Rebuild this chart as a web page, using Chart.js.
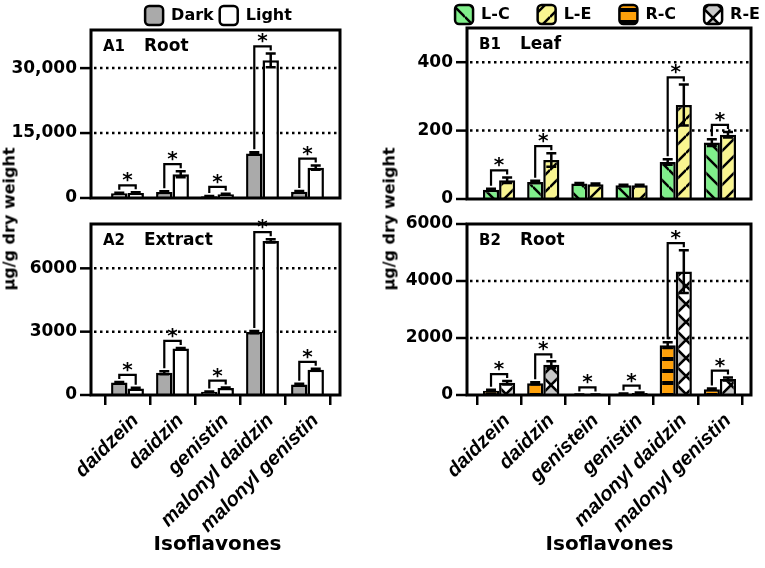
<!DOCTYPE html>
<html>
<head>
<meta charset="utf-8">
<script src="https://cdn.jsdelivr.net/npm/chart.js@4.4.1/dist/chart.umd.min.js"></script>
<style>
  body { margin: 0; background: #fff; overflow: hidden; }
  #hoja { position: relative; width: 765px; height: 568px; overflow: hidden; }
  canvas { position: absolute; }
  .ytit { position: absolute; transform: translate(-50%, -50%) rotate(-90deg); white-space: nowrap;
          font: bold 16px 'DejaVu Sans'; color: #000; }
</style>
</head>
<body>
<div id="hoja">
  <canvas id="gA1" width="437" height="211" style="left:0;top:0"></canvas>
  <canvas id="gA2" width="437" height="363" style="left:0;top:205px"></canvas>
  <canvas id="gB1" width="408" height="212" style="left:380px;top:0"></canvas>
  <canvas id="gB2" width="408" height="363" style="left:380px;top:205px"></canvas>
  <div class="ytit" style="left:9px;top:219px">μg/g dry weight</div>
  <div class="ytit" style="left:389px;top:219px">μg/g dry weight</div>
</div>
<script>
//Categorías
const isoA = ['daidzein', 'daidzin', 'genistin', 'malonyl daidzin', 'malonyl genistin'];
const isoB = ['daidzein', 'daidzin', 'genistein', 'genistin', 'malonyl daidzin', 'malonyl genistin'];

//A1 Root (Dark / Light)
const a1Dark = [1100, 1400, 400, 10300, 1450];
const a1DarkErr = [100, 150, 60, 250, 150];
const a1Light = [1150, 5500, 850, 31800, 7000];
const a1LightErr = [150, 700, 120, 1600, 500];
const a1Sig = [1, 1, 1, 1, 1];
const a1Ticks = [0, 15000, 30000];

//A2 Extract
const a2Dark = [590, 1050, 150, 2980, 500];
const a2DarkErr = [30, 70, 20, 50, 30];
const a2Light = [310, 2200, 330, 7300, 1200];
const a2LightErr = [30, 30, 20, 80, 40];
const a2Sig = [1, 1, 1, 1, 1];
const a2Ticks = [0, 3000, 6000];

//B1 Leaf (L-C / L-E)
const b1LC = [27, 50, 45, 40, 108, 165];
const b1LCErr = [3, 3, 2, 2, 8, 10];
const b1LE = [55, 114, 43, 40, 275, 188];
const b1LEErr = [8, 20, 2, 2, 60, 8];
const b1Sig = [1, 1, 0, 0, 1, 1];
const b1Ticks = [0, 200, 400];

//B2 Root (R-C / R-E)
const b2RC = [150, 410, 10, 40, 1750, 200];
const b2RCErr = [30, 40, 5, 10, 100, 25];
const b2RE = [430, 1060, 15, 70, 4330, 560];
const b2REErr = [60, 120, 5, 15, 750, 50];
const b2Sig = [1, 1, 1, 1, 1, 1];
const b2Ticks = [0, 2000, 4000, 6000];

const leyendaB = ['L-C', 'L-E', 'R-C', 'R-E'];

const fam = 'DejaVu Sans';
const Negro = '#000';

//Tramas de relleno
function trama(tipo) {
  const c = document.createElement('canvas');
  const s = tipo === 'naranja' ? 12 : (tipo === 'rombo' ? 18 : 17);
  c.width = s; c.height = s;
  const g = c.getContext('2d');
  if (tipo === 'verde' || tipo === 'amarillo') {
    g.fillStyle = tipo === 'verde' ? '#80ef8b' : '#f9f590';
    g.fillRect(0, 0, s, s);
    g.strokeStyle = Negro; g.lineWidth = 2.5;
    for (let k = -1; k <= 1; k++) {
      g.beginPath();
      if (tipo === 'verde') { g.moveTo(0, k * s); g.lineTo(s, s + k * s); }
      else { g.moveTo(0, s + k * s); g.lineTo(s, k * s); }
      g.stroke();
    }
  } else if (tipo === 'naranja') {
    g.fillStyle = '#ffa10a'; g.fillRect(0, 0, s, s);
    g.fillStyle = Negro; g.fillRect(0, 8, s, 4);
  } else {
    const h = s / 2;
    g.fillStyle = '#fff'; g.fillRect(0, 0, s, s);
    g.beginPath();
    g.moveTo(h, 0); g.lineTo(s, h); g.lineTo(h, s); g.lineTo(0, h); g.closePath();
    g.fillStyle = '#c8c8c8'; g.fill();
    g.strokeStyle = Negro; g.lineWidth = 2.5; g.stroke();
  }
  return g.createPattern(c, 'repeat');
}
const tVerde = trama('verde'), tAmarillo = trama('amarillo');
const tNaranja = trama('naranja'), tRombo = trama('rombo');

//Plugin: rejilla punteada, marco, barras de error, corchetes y rótulos
const marcas = {
  id: 'marcas',
  beforeDatasetsDraw(chart, args, o) {
    const {ctx, chartArea: a, scales: {y}} = chart;
    const L = a.left - o.inL, R = a.right + o.inR;
    ctx.save();
    ctx.strokeStyle = Negro; ctx.lineWidth = 2.5;
    ctx.setLineDash([2.5, 3.5]);
    y.ticks.forEach(t => {
      if (t.value <= 0 || t.value >= y.max) return;
      const py = y.getPixelForValue(t.value);
      ctx.beginPath(); ctx.moveTo(L + 3, py); ctx.lineTo(R - 2, py); ctx.stroke();
    });
    ctx.restore();
  },
  afterDatasetsDraw(chart, args, o) {
    const {ctx, chartArea: a, scales: {y}} = chart;
    const L = a.left - o.inL, R = a.right + o.inR;
    ctx.save();
    ctx.strokeStyle = Negro; ctx.fillStyle = Negro; ctx.lineWidth = 2.5;
    //barras de error
    const tops = [];
    o.errores.forEach((errs, d) => {
      const vals = chart.data.datasets[d].data;
      tops[d] = [];
      chart.getDatasetMeta(d).data.forEach((bar, i) => {
        const hi = y.getPixelForValue(vals[i] + errs[i]);
        const lo = y.getPixelForValue(Math.max(vals[i] - errs[i], 0));
        ctx.beginPath();
        ctx.moveTo(bar.x, lo); ctx.lineTo(bar.x, hi);
        ctx.moveTo(bar.x - 5, hi); ctx.lineTo(bar.x + 5, hi);
        ctx.moveTo(bar.x - 5, lo); ctx.lineTo(bar.x + 5, lo);
        ctx.stroke();
        tops[d][i] = Math.min(hi, bar.y);
      });
    });
    //corchetes de significancia
    ctx.lineWidth = 2.2;
    ctx.font = 'bold 20px ' + fam;
    ctx.textAlign = 'center'; ctx.textBaseline = 'alphabetic';
    o.sig.forEach((s, i) => {
      if (!s) return;
      const x0 = chart.getDatasetMeta(0).data[i].x, x1 = chart.getDatasetMeta(1).data[i].x;
      const t0 = tops[0][i], t1 = tops[1][i];
      const by = Math.min(t0, t1) - 7;
      const e0 = Math.max(t0 - 3, by + 4), e1 = Math.max(t1 - 3, by + 4);
      ctx.beginPath();
      ctx.moveTo(x0, e0); ctx.lineTo(x0, by); ctx.lineTo(x1, by); ctx.lineTo(x1, e1);
      ctx.stroke();
      ctx.fillText('*', (x0 + x1) / 2, by + 1);
    });
    //marco y marcas del eje y
    ctx.lineWidth = 3;
    ctx.strokeRect(L, a.top, R - L, a.bottom - a.top);
    ctx.lineWidth = 2.5;
    y.ticks.forEach(t => {
      const py = y.getPixelForValue(t.value);
      ctx.beginPath(); ctx.moveTo(L - 11, py); ctx.lineTo(L, py); ctx.stroke();
    });
    //rótulo del panel
    ctx.textAlign = 'left'; ctx.textBaseline = 'middle';
    ctx.font = 'bold 15px ' + fam;
    ctx.fillText(o.tag, L + 12, a.top + 17);
    ctx.font = 'bold 17px ' + fam;
    ctx.fillText(o.nombre, L + 53, a.top + 17);
    ctx.restore();
  }
};

const fuenteLeyenda = {family: fam, size: 16, weight: 'bold'};

//Crear un panel
function crearPanel(id, p) {
  const scales = {
    x: {
      display: p.abajo,
      offset: true,
      afterFit: s => { if (p.abajo) s.height = 173; },
      grid: {display: true, drawOnChartArea: false, drawTicks: true, tickLength: 10, color: Negro, lineWidth: 2.5, offset: true},
      border: {display: false},
      ticks: {color: Negro, font: {family: 'Liberation Sans', size: 20, weight: 'bold', style: 'italic'},
              minRotation: 45, maxRotation: 45, autoSkip: false, padding: 4, labelOffset: 8},
      title: {display: p.abajo, text: 'Isoflavones', color: Negro,
              font: {family: fam, size: 20, weight: 'bold'}, padding: {top: 0, bottom: 11}}
    },
    y: {
      min: 0, max: p.max,
      afterFit: s => { s.width = p.ancho; },
      afterBuildTicks: s => { s.ticks = p.ticks.map(v => ({value: v})); },
      grid: {display: true, drawOnChartArea: false, drawTicks: true, tickLength: p.sep, color: 'rgba(0,0,0,0)'},
      border: {display: false},
      ticks: {color: Negro, padding: 0, font: {family: fam, size: 17, weight: 'bold'}, callback: p.fmt}
    }
  };
  if (p.derecha) {
    scales.yR = {type: 'linear', position: 'right', display: true,
                 afterFit: s => { s.width = p.derecha; },
                 ticks: {display: false}, grid: {display: false, drawTicks: false}, border: {display: false}};
  }
  return new Chart(document.getElementById(id).getContext('2d'), {
    type: 'bar',
    data: {
      labels: p.labels,
      datasets: p.series.map(s => ({
        label: s.label, data: s.data, backgroundColor: s.fill,
        borderColor: Negro, borderWidth: 2.5,
        categoryPercentage: 0.73, barPercentage: 1.0
      }))
    },
    options: {
      responsive: false,
      animation: false,
      events: [],
      layout: {padding: p.pad},
      scales: scales,
      plugins: {
        legend: p.leyenda || {display: false},
        tooltip: {enabled: false},
        marcas: {inL: p.inL, inR: p.inR, tag: p.tag, nombre: p.nombre, errores: p.errores, sig: p.sig}
      }
    },
    plugins: [marcas]
  });
}

const conComa = v => v.toLocaleString('en-US');
const simple = v => String(v);

//A1 Root
crearPanel('gA1', {
  labels: isoA, abajo: false, max: 38800, ticks: a1Ticks, fmt: conComa,
  ancho: 105, sep: 28, derecha: 107, inL: 14, inR: 10,
  pad: {top: 0, right: 0, bottom: 13, left: 0},
  tag: 'A1', nombre: 'Root',
  series: [{label: 'Dark', data: a1Dark, fill: '#aaaaaa'}, {label: 'Light', data: a1Light, fill: '#ffffff'}],
  errores: [a1DarkErr, a1LightErr], sig: a1Sig,
  leyenda: {display: true, position: 'top', align: 'center', maxHeight: 30,
    labels: {color: Negro, font: fuenteLeyenda, boxWidth: 18, boxHeight: 19, padding: 6,
             useBorderRadius: true, borderRadius: 4}}
});

//A2 Extract
crearPanel('gA2', {
  labels: isoA, abajo: true, max: 8100, ticks: a2Ticks, fmt: simple,
  ancho: 105, sep: 28, inL: 14, inR: 10,
  pad: {top: 19, right: 107, bottom: 0, left: 0},
  tag: 'A2', nombre: 'Extract',
  series: [{label: 'Dark', data: a2Dark, fill: '#aaaaaa'}, {label: 'Light', data: a2Light, fill: '#ffffff'}],
  errores: [a2DarkErr, a2LightErr], sig: a2Sig
});

//B1 Leaf
const rellenosB = [tVerde, tAmarillo, tNaranja, tRombo];
crearPanel('gB1', {
  labels: isoB, abajo: false, max: 500, ticks: b1Ticks, fmt: simple,
  ancho: 97, sep: 24, derecha: 46, inL: 10, inR: 9,
  pad: {top: -23, right: 0, bottom: 13, left: 0},
  tag: 'B1', nombre: 'Leaf',
  series: [{label: 'L-C', data: b1LC, fill: tVerde}, {label: 'L-E', data: b1LE, fill: tAmarillo}],
  errores: [b1LCErr, b1LEErr], sig: b1Sig,
  leyenda: {display: true, position: 'top', align: 'end', maxHeight: 51,
    labels: {color: Negro, font: fuenteLeyenda, boxWidth: 18, boxHeight: 19, padding: 28,
             useBorderRadius: true, borderRadius: 4,
             generateLabels: () => leyendaB.map((t, i) => ({
               text: t, fillStyle: rellenosB[i], strokeStyle: Negro, lineWidth: 2.5,
               borderRadius: 4, hidden: false, datasetIndex: i, fontColor: Negro
             }))}}
});

//B2 Root
crearPanel('gB2', {
  labels: isoB, abajo: true, max: 6000, ticks: b2Ticks, fmt: simple,
  ancho: 97, sep: 24, inL: 10, inR: 9,
  pad: {top: 19, right: 46, bottom: 0, left: 0},
  tag: 'B2', nombre: 'Root',
  series: [{label: 'R-C', data: b2RC, fill: tNaranja}, {label: 'R-E', data: b2RE, fill: tRombo}],
  errores: [b2RCErr, b2REErr], sig: b2Sig
});
</script>
</body>
</html>
